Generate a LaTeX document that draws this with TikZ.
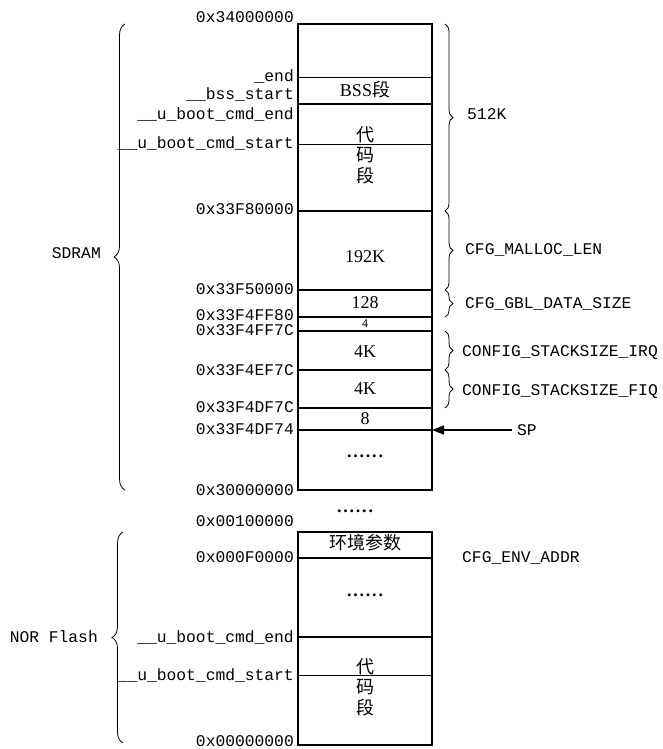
\documentclass[tikz,border=0pt]{standalone}
\usepackage{fontspec}
\setmainfont{Liberation Serif}
\setmonofont{Liberation Mono}
\newfontfamily\cjk{Noto Sans CJK SC}
\usetikzlibrary{arrows.meta,positioning,decorations.pathreplacing}

\tikzset{
  addr/.style={anchor=east,inner sep=0pt,text height=10pt,text depth=0pt,font=\fontsize{16.3}{16}\selectfont\ttfamily},
  note/.style={anchor=west,inner sep=0pt,text height=10pt,text depth=0pt,font=\fontsize{16.3}{16}\selectfont\ttfamily},
  cell/.style={inner sep=0pt,font=\fontsize{18}{18}\selectfont},
  zh/.style={inner sep=0pt,font=\fontsize{18}{18}\selectfont\cjk},
  boxline/.style={line width=2.2pt},
  thickline/.style={line width=1.8pt},
  thinline/.style={line width=0.9pt},
  rbrace/.style={decorate,decoration={brace,amplitude=8pt},line width=0.8pt},
  lbrace/.style={decorate,decoration={brace,amplitude=11pt},line width=0.8pt},
}
\newcommand{\sixdots}{\textbf{.\kern1.8pt.\kern1.8pt.\kern1.8pt.\kern1.8pt.\kern1.8pt.}}

\begin{document}
\begin{tikzpicture}[x=1pt,y=-1pt]
\useasboundingbox (0,0) rectangle (662,749);

% SDRAM map
\draw[boxline] (298,24) rectangle (432,490);
\draw[thinline] (298,77) -- (432,77);
\draw[thinline] (298,144) -- (432,144);
\foreach \y in {104,211,290,317,331,370,408,430}
  \draw[thickline] (298,\y) -- (432,\y);

\node[addr] (a0) at (294,17.5) {0x34000000};
\node[addr] (a1) at (294,77) {\_end};
\node[addr] (a2) at (294,95) {\_\_bss\_start};
\node[addr] (a3) at (294,115) {\_\_u\_boot\_cmd\_end};
\node[addr] (a4) at (294,143) {\_\_u\_boot\_cmd\_start};
\node[addr] (a5) at (294,209) {0x33F80000};
\node[addr] (a6) at (294,289) {0x33F50000};
\node[addr] (a7) at (294,315.5) {0x33F4FF80};
\node[addr] (a8) at (294,330.5) {0x33F4FF7C};
\node[addr] (a9) at (294,370) {0x33F4EF7C};
\node[addr] (a10) at (294,407) {0x33F4DF7C};
\node[addr] (a11) at (294,429) {0x33F4DF74};
\node[addr] (a12) at (294,490) {0x30000000};

\node[cell] (bss) at (365,90) {BSS{\cjk 段}};
\node[zh] (code1) at (365,135) {代};
\node[zh,below=4pt of code1] (code2) {码};
\node[zh,below=4pt of code2] (code3) {段};
\node[cell] (heap) at (365,257) {192K};
\node[cell] (gbl) at (365,303) {128};
\node[cell,font=\fontsize{12}{12}\selectfont] (four) at (365,324) {4};
\node[cell] (irq) at (365,352) {4K};
\node[cell] (fiq) at (365,389) {4K};
\node[cell] (eight) at (365,419) {8};
\node[cell] (more) at (365,456) {\sixdots};

\draw[rbrace] (445,24) -- (445,211);
\node[note] (n0) at (467,115) {512K};
\draw[rbrace] (445,211) -- (445,290);
\node[note] (n1) at (465,249) {CFG\_MALLOC\_LEN};
\draw[rbrace] (445,290) -- (445,317);
\node[note] (n2) at (465,303) {CFG\_GBL\_DATA\_SIZE};
\draw[rbrace] (445,331) -- (445,370);
\node[note] (n3) at (462,351) {CONFIG\_STACKSIZE\_IRQ};
\draw[rbrace] (445,370) -- (445,408);
\node[note] (n4) at (462,390) {CONFIG\_STACKSIZE\_FIQ};

\node[note] (sp) at (517,430) {SP};
\coordinate (sptip) at (432,430);
\draw[-{Triangle[length=12pt,width=9pt]},line width=1.6pt,shorten <=5pt] (sp.west) -- (sptip);

\draw[lbrace] (125,490) -- (125,24);
\node[addr] (sdram) at (101,253) {SDRAM};

% gap
\node[cell] (gap) at (355,511) {\sixdots};
\node[addr] (b0) at (294,521) {0x00100000};

% NOR Flash map
\draw[boxline] (298,532) rectangle (432,745);
\draw[thickline] (298,558) -- (432,558);
\draw[thickline] (298,637) -- (432,637);
\draw[thinline] (298,675) -- (432,675);

\node[addr] (b1) at (294,557) {0x000F0000};
\node[addr] (b2) at (294,637) {\_\_u\_boot\_cmd\_end};
\node[addr] (b3) at (294,675) {\_\_u\_boot\_cmd\_start};
\node[addr] (b4) at (294,741) {0x00000000};

\node[zh] (env) at (365,543) {环境参数};
\node[cell] (more2) at (365,595) {\sixdots};
\node[zh] (code4) at (365,667) {代};
\node[zh,below=4pt of code4] (code5) {码};
\node[zh,below=4pt of code5] (code6) {段};

\node[note] (n5) at (462,557) {CFG\_ENV\_ADDR};

\draw[lbrace] (123,743) -- (123,532);
\node[addr] (nor) at (98,637) {NOR Flash};
\end{tikzpicture}
\end{document}
